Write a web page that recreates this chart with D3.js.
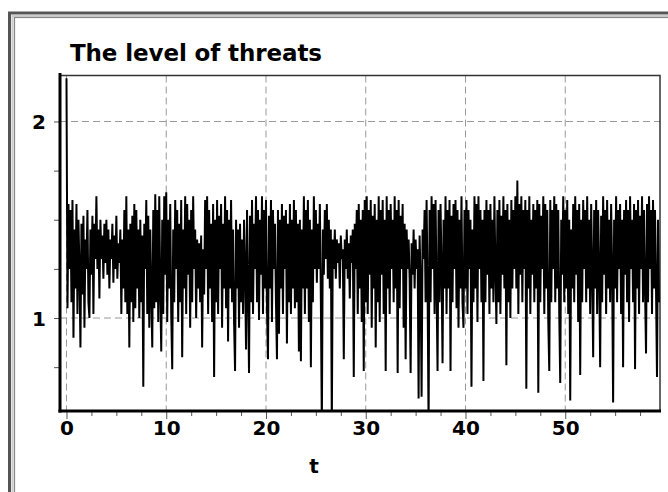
<!DOCTYPE html>
<html lang="en">
<head>
<meta charset="utf-8">
<title>The level of threats</title>
<script src="https://d3js.org/d3.v7.min.js"></script>
<style>
  body { margin: 0; background: #fff; }
  text { font-family: "DejaVu Sans", Verdana, sans-serif; font-weight: bold; }
</style>
</head>
<body>
<script>
// chart data
var title = "The level of threats";
var xLabel = "t";
var dt = 0.1;
var xTicks = [0, 10, 20, 30, 40, 50];
var yTicks = [1, 2];
// level, one row per unit of t (10 samples per unit)
var level = [
  2.22, 1.05, 1.58, 1.25, 1.55, 1.08, 1.60, 0.90, 1.45, 1.15,
  1.58, 1.02, 1.50, 1.25, 0.85, 1.48, 1.12, 1.52, 0.95, 1.40,
  1.25, 1.55, 1.08, 1.00, 1.45, 1.22, 1.52, 1.02, 1.48, 1.30,
  1.62, 1.25, 1.45, 1.10, 1.50, 1.30, 1.42, 1.20, 1.48, 1.28,
  1.50, 1.22, 1.45, 1.15, 1.40, 1.30, 1.48, 1.18, 1.42, 1.25,
  1.52, 1.20, 1.38, 1.28, 1.45, 1.02, 1.40, 1.15, 1.55, 1.08,
  1.62, 1.02, 1.45, 0.85, 1.48, 1.08, 1.52, 0.98, 1.58, 1.05,
  1.55, 1.15, 1.45, 1.00, 1.50, 1.08, 1.42, 0.65, 1.48, 1.25,
  1.60, 1.02, 1.52, 0.95, 1.45, 1.12, 0.85, 1.55, 1.05, 1.63,
  1.08, 1.55, 0.98, 1.62, 1.15, 0.83, 1.50, 1.02, 1.62, 1.22,
  1.64, 0.98, 1.50, 1.15, 1.58, 1.02, 0.74, 1.45, 1.08, 1.60,
  1.25, 1.55, 0.98, 1.48, 1.08, 1.60, 0.80, 1.45, 1.15, 1.62,
  1.02, 1.58, 1.22, 1.50, 0.95, 1.55, 1.08, 1.62, 1.25, 1.45,
  1.00, 1.40, 1.15, 1.38, 1.08, 1.42, 0.85, 1.35, 1.12, 1.60,
  1.25, 1.62, 1.02, 1.55, 1.15, 1.48, 0.98, 1.58, 0.70, 1.50,
  1.08, 1.60, 1.02, 1.52, 1.25, 1.58, 0.95, 1.48, 1.15, 1.62,
  1.05, 1.55, 0.88, 1.50, 1.15, 1.60, 1.08, 1.45, 0.98, 0.73,
  1.50, 1.15, 1.45, 0.95, 1.48, 1.08, 1.40, 1.02, 1.50, 1.25,
  0.84, 1.55, 1.15, 0.72, 1.52, 1.08, 1.60, 1.02, 1.48, 1.25,
  1.62, 1.08, 1.55, 0.99, 1.50, 1.22, 1.62, 1.02, 1.55, 1.15,
  1.60, 1.05, 0.79, 1.52, 1.15, 1.60, 0.98, 1.55, 1.25, 1.48,
  1.08, 0.79, 1.55, 0.92, 1.50, 1.15, 1.58, 1.02, 1.52, 1.25,
  1.55, 0.87, 1.48, 1.08, 1.58, 1.02, 1.50, 1.15, 1.60, 1.05,
  1.55, 1.08, 1.48, 0.83, 1.50, 0.78, 1.45, 1.15, 1.62, 1.02,
  1.55, 1.15, 1.60, 0.98, 1.50, 0.75, 1.45, 1.08, 1.62, 1.25,
  1.55, 1.18, 1.48, 1.25, 1.58, 1.10, 0.45, 1.45, 1.22, 1.55,
  1.30, 1.58, 1.20, 1.50, 1.15, 1.45, 0.45, 1.40, 1.25, 1.45,
  1.20, 1.40, 1.28, 1.38, 1.15, 1.42, 1.30, 1.35, 0.79, 1.40,
  1.25, 1.45, 1.20, 1.38, 1.10, 1.42, 1.28, 1.45, 0.70, 1.48,
  1.25, 1.55, 1.02, 1.58, 1.15, 1.50, 0.98, 1.55, 0.73, 1.60,
  1.08, 1.62, 1.02, 1.55, 1.22, 1.60, 0.95, 1.52, 1.15, 1.58,
  0.85, 1.50, 1.08, 1.62, 0.98, 1.55, 1.22, 1.60, 1.02, 1.50,
  0.73, 1.62, 1.15, 1.55, 1.02, 1.58, 1.25, 1.50, 1.08, 1.62,
  1.15, 1.55, 0.72, 1.60, 1.05, 1.52, 1.25, 1.58, 0.95, 1.48,
  0.79, 1.45, 1.25, 1.40, 1.20, 0.72, 1.38, 1.22, 1.45, 1.15,
  1.40, 1.25, 1.35, 0.59, 1.42, 1.20, 0.60, 1.45, 1.30, 1.55,
  1.08, 1.60, 1.15, 0.45, 1.55, 1.08, 1.62, 1.25, 1.58, 1.02,
  1.60, 1.15, 0.73, 1.55, 1.08, 1.58, 1.25, 0.77, 1.50, 1.15,
  1.62, 1.02, 1.55, 1.15, 1.60, 0.73, 1.52, 1.08, 1.58, 1.25,
  1.60, 1.05, 1.55, 0.95, 1.50, 1.15, 1.62, 1.08, 0.95, 1.55,
  1.15, 1.60, 1.02, 1.55, 1.25, 1.50, 0.65, 1.45, 1.08, 1.62,
  1.15, 1.58, 0.98, 1.62, 1.25, 1.55, 1.08, 1.50, 0.68, 1.55,
  1.08, 1.60, 1.22, 1.55, 1.02, 1.58, 1.15, 1.50, 1.08, 1.62,
  1.25, 0.97, 1.55, 1.08, 1.60, 1.02, 1.52, 1.22, 1.62, 1.15,
  1.55, 0.76, 1.58, 1.08, 1.50, 1.00, 1.60, 1.15, 1.55, 1.25,
  1.62, 1.15, 1.70, 1.02, 1.58, 1.22, 1.62, 1.08, 1.55, 1.25,
  1.60, 0.64, 1.55, 1.15, 1.62, 1.02, 1.50, 1.22, 1.58, 1.08,
  1.55, 1.15, 1.60, 0.62, 1.58, 1.08, 1.52, 1.25, 1.62, 1.02,
  1.58, 1.15, 1.55, 0.98, 0.73, 1.60, 1.08, 1.55, 1.25, 1.62,
  1.08, 1.58, 1.15, 1.55, 1.02, 0.67, 1.50, 1.22, 1.62, 1.08,
  1.55, 1.15, 1.60, 1.02, 1.50, 0.58, 1.45, 1.15, 1.58, 1.08,
  1.62, 1.22, 1.55, 0.98, 1.58, 0.71, 1.50, 1.08, 1.60, 1.25,
  1.55, 1.08, 1.62, 1.15, 1.50, 1.02, 1.58, 1.25, 0.80, 1.55,
  1.15, 1.60, 1.02, 1.55, 1.25, 0.75, 1.52, 1.08, 1.62, 1.22,
  1.55, 1.02, 1.60, 1.15, 1.50, 1.08, 1.58, 1.25, 0.57, 1.50,
  1.15, 1.62, 1.08, 1.55, 1.25, 1.58, 1.02, 1.50, 0.75, 1.55,
  1.22, 1.60, 1.08, 1.55, 0.98, 1.62, 1.25, 1.50, 1.08, 1.58,
  0.74, 1.55, 1.15, 1.60, 1.02, 1.52, 1.25, 1.62, 1.08, 1.55,
  1.15, 0.82, 1.58, 1.08, 1.62, 1.25, 1.55, 1.02, 1.60, 1.15,
  1.55, 1.15, 0.70, 1.50, 1.08
];

var W = 668, H = 492;
var pLeft = 60, pRight = 660, pTop = 75.5, pBottom = 410;

var svg = d3.select("body").append("svg")
  .attr("width", W)
  .attr("height", H);

// outer frame
svg.append("rect").attr("x", 9.5).attr("y", 13).attr("width", 700).attr("height", 600)
  .attr("fill", "none").attr("stroke", "#555").attr("stroke-width", 3);
svg.append("rect").attr("x", 12.5).attr("y", 16).attr("width", 700).attr("height", 600)
  .attr("fill", "none").attr("stroke", "#ccc").attr("stroke-width", 2);
svg.append("rect").attr("x", 14.5).attr("y", 17.5).attr("width", 700).attr("height", 600)
  .attr("fill", "none").attr("stroke", "#888").attr("stroke-width", 1.2);

var x = d3.scaleLinear().domain([-0.65, 59.5]).range([pLeft, pRight]);
var y = d3.scaleLinear().domain([0.532, 2.234]).range([pBottom, pTop]);

// grid
svg.append("g").selectAll("line").data(xTicks).join("line")
  .attr("x1", d => x(d)).attr("x2", d => x(d))
  .attr("y1", pTop).attr("y2", pBottom)
  .attr("stroke", "#999").attr("stroke-dasharray", "7,4");
svg.append("g").selectAll("line").data(yTicks).join("line")
  .attr("x1", pLeft).attr("x2", pRight)
  .attr("y1", d => y(d)).attr("y2", d => y(d))
  .attr("stroke", "#999").attr("stroke-dasharray", "7,4");

// top and right border
svg.append("path")
  .attr("d", "M" + pLeft + "," + pTop + "H" + pRight + "V" + pBottom)
  .attr("fill", "none").attr("stroke", "#333").attr("stroke-width", 1.5);

// data line
svg.append("clipPath").attr("id", "clip")
  .append("rect").attr("x", pLeft).attr("y", pTop - 3).attr("width", pRight - pLeft).attr("height", pBottom - pTop + 3);

var line = d3.line()
  .x((d, i) => x(i * dt))
  .y(d => y(d));

svg.append("path")
  .datum(level)
  .attr("clip-path", "url(#clip)")
  .attr("d", line)
  .attr("fill", "none")
  .attr("stroke", "#000")
  .attr("stroke-width", 2);

// axes
var xAxis = d3.axisBottom(x)
  .tickValues(d3.range(0, 59, 2.5))
  .tickSize(5)
  .tickFormat(d => xTicks.indexOf(d) >= 0 ? d : "");
var gx = svg.append("g").attr("transform", "translate(0," + (pBottom + 1) + ")").call(xAxis);
gx.select(".domain").remove();
gx.selectAll(".tick line").attr("stroke", "#555").attr("y1", 1)
  .attr("y2", d => xTicks.indexOf(d) >= 0 ? 8 : 5);
gx.selectAll(".tick text").attr("y", 24).attr("dy", null)
  .attr("font-size", 20).attr("font-family", "DejaVu Sans").attr("font-weight", "bold").attr("fill", "#000");

var yAxis = d3.axisLeft(y)
  .tickValues(d3.range(0.75, 2.1, 0.25))
  .tickSize(5)
  .tickFormat(d => yTicks.indexOf(d) >= 0 ? d : "");
var gy = svg.append("g").attr("transform", "translate(" + (pLeft - 1) + ",0)").call(yAxis);
gy.select(".domain").remove();
gy.selectAll(".tick line").attr("stroke", "#555");
gy.selectAll(".tick text").attr("x", -13).attr("dy", "0.36em")
  .attr("font-size", 20).attr("font-family", "DejaVu Sans").attr("font-weight", "bold").attr("fill", "#000");

// thick axis lines
svg.append("line").attr("x1", pLeft).attr("x2", pLeft).attr("y1", 73).attr("y2", pBottom + 2.5)
  .attr("stroke", "#000").attr("stroke-width", 3);
svg.append("line").attr("x1", pLeft - 1.5).attr("x2", pRight + 1).attr("y1", pBottom + 1).attr("y2", pBottom + 1)
  .attr("stroke", "#000").attr("stroke-width", 3);

// labels
svg.append("text").attr("x", 70).attr("y", 61)
  .attr("font-size", 23).attr("textLength", 252)
  .text(title);
svg.append("text").attr("x", 314).attr("y", 473).attr("text-anchor", "middle")
  .attr("font-size", 20)
  .text(xLabel);
</script>
</body>
</html>
